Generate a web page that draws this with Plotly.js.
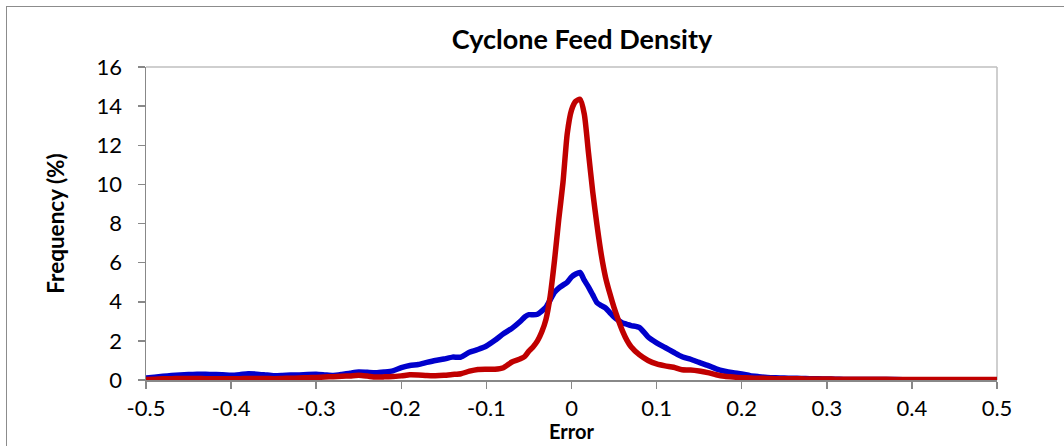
<!DOCTYPE html>
<html>
<head>
<meta charset="utf-8">
<script src="https://cdn.plot.ly/plotly-3.0.1.min.js"></script>
<style>
  html, body { margin: 0; padding: 0; background: #fff; overflow: hidden; }
  #frame { position: absolute; left: 6px; top: 6px; width: 1200px; height: 600px; border: 1px solid #8c8c8c; }
  #chart { position: absolute; left: 0; top: 0; width: 1064px; height: 446px; }
</style>
</head>
<body>
<div id="frame"></div>
<div id="chart"></div>
<script>
const errorX = [
  -0.50, -0.49, -0.48, -0.47, -0.46, -0.45, -0.44, -0.43, -0.42, -0.41,
  -0.40, -0.39, -0.38, -0.37, -0.36, -0.35, -0.34, -0.33, -0.32, -0.31,
  -0.30, -0.29, -0.28, -0.27, -0.26, -0.25, -0.24, -0.23, -0.22, -0.21,
  -0.20, -0.19, -0.18, -0.17, -0.16, -0.15, -0.14, -0.13, -0.12, -0.11,
  -0.10, -0.09, -0.08, -0.07, -0.06, -0.055, -0.05, -0.045, -0.04, -0.035,
  -0.03, -0.025, -0.02, -0.015, -0.01, -0.005, 0.0, 0.005, 0.01, 0.015,
  0.02, 0.025, 0.03, 0.035, 0.04, 0.045, 0.05, 0.055, 0.06, 0.065,
  0.07, 0.08, 0.09, 0.10, 0.11, 0.12, 0.13, 0.14, 0.15, 0.16,
  0.17, 0.18, 0.19, 0.20, 0.21, 0.22, 0.23, 0.24, 0.25, 0.26,
  0.27, 0.28, 0.29, 0.30, 0.31, 0.32, 0.33, 0.34, 0.36, 0.38,
  0.40, 0.42, 0.44, 0.46, 0.48, 0.50
];
const blueFreq = [
  0.10, 0.14, 0.19, 0.23, 0.26, 0.28, 0.29, 0.29, 0.28, 0.27,
  0.24, 0.27, 0.32, 0.30, 0.26, 0.22, 0.23, 0.25, 0.26, 0.28,
  0.29, 0.26, 0.23, 0.28, 0.35, 0.41, 0.39, 0.37, 0.41, 0.47,
  0.63, 0.74, 0.79, 0.90, 1.00, 1.07, 1.17, 1.17, 1.42, 1.56,
  1.74, 2.03, 2.36, 2.64, 3.00, 3.22, 3.34, 3.33, 3.36, 3.52,
  3.72, 4.10, 4.48, 4.70, 4.85, 5.00, 5.27, 5.42, 5.50, 5.10,
  4.75, 4.35, 3.95, 3.80, 3.68, 3.45, 3.22, 3.05, 2.92, 2.85,
  2.78, 2.68, 2.20, 1.90, 1.66, 1.42, 1.19, 1.06, 0.90, 0.75,
  0.57, 0.45, 0.37, 0.31, 0.22, 0.17, 0.13, 0.11, 0.10, 0.09,
  0.08, 0.07, 0.06, 0.05, 0.04, 0.03, 0.03, 0.02, 0.02, 0.02,
  0.01, 0.01, 0.01, 0.01, 0.01, 0.01
];
const redFreq = [
  0.02, 0.04, 0.06, 0.07, 0.08, 0.08, 0.08, 0.07, 0.07, 0.06,
  0.06, 0.07, 0.08, 0.08, 0.08, 0.07, 0.08, 0.09, 0.10, 0.12,
  0.13, 0.15, 0.17, 0.19, 0.21, 0.24, 0.20, 0.15, 0.16, 0.18,
  0.21, 0.27, 0.26, 0.23, 0.22, 0.24, 0.28, 0.32, 0.45, 0.54,
  0.55, 0.55, 0.63, 0.92, 1.08, 1.20, 1.48, 1.70, 2.00, 2.45,
  3.10, 4.30, 6.10, 8.20, 10.10, 12.60, 13.80, 14.25, 14.35, 13.60,
  11.60, 9.60, 7.90, 6.40, 5.25, 4.43, 3.70, 3.07, 2.50, 2.04,
  1.70, 1.28, 1.00, 0.82, 0.72, 0.65, 0.52, 0.51, 0.46, 0.38,
  0.27, 0.19, 0.15, 0.12, 0.10, 0.09, 0.08, 0.07, 0.07, 0.06,
  0.06, 0.05, 0.05, 0.05, 0.04, 0.04, 0.04, 0.04, 0.04, 0.03,
  0.03, 0.03, 0.03, 0.03, 0.03, 0.03
];
const xTicks = [-0.5, -0.4, -0.3, -0.2, -0.1, 0, 0.1, 0.2, 0.3, 0.4, 0.5];
const xTickLabels = ['-0.5', '-0.4', '-0.3', '-0.2', '-0.1', '0', '0.1', '0.2', '0.3', '0.4', '0.5'];
const yTicks = [0, 2, 4, 6, 8, 10, 12, 14, 16];

const FONT = 'Lato, "Open Sans", "Liberation Sans", sans-serif';

const traces = [
  {
    x: errorX, y: blueFreq, type: 'scatter', mode: 'lines',
    line: { color: '#0000CC', width: 5.5, shape: 'spline', smoothing: 0.6 },
    hoverinfo: 'skip'
  },
  {
    x: errorX, y: redFreq, type: 'scatter', mode: 'lines',
    line: { color: '#C00000', width: 5.5, shape: 'spline', smoothing: 0.6 },
    hoverinfo: 'skip'
  }
];

const layout = {
  width: 1064, height: 446,
  margin: { l: 146, r: 67, t: 67, b: 66 },
  paper_bgcolor: 'rgba(0,0,0,0)',
  plot_bgcolor: '#fff',
  showlegend: false,
  font: { family: FONT, color: '#000', size: 22 },
  title: {
    text: '<b>Cyclone Feed Density</b>',
    font: { family: FONT, size: 27, color: '#000' },
    x: 582 / 1064, xref: 'container', xanchor: 'center',
    y: 1 - 40 / 446, yref: 'container', yanchor: 'middle'
  },
  xaxis: {
    range: [-0.5, 0.5],
    tickmode: 'array', tickvals: xTicks, ticktext: xTickLabels,
    ticks: 'outside', ticklen: 7, tickwidth: 1.5, tickcolor: '#888',
    ticklabelstandoff: 1,
    showline: true, linecolor: '#888', linewidth: 1.5,
    showgrid: false, zeroline: false,
    tickfont: { family: FONT, size: 22, color: '#000' }
  },
  yaxis: {
    range: [0, 16],
    tickmode: 'array', tickvals: yTicks,
    ticks: 'outside', ticklen: 7, tickwidth: 1.5, tickcolor: '#888',
    ticklabelstandoff: 11,
    showline: true, linecolor: '#888', linewidth: 1.5,
    showgrid: false, zeroline: false,
    tickfont: { family: FONT, size: 22, color: '#000' },
    title: { text: '<b>Frequency (%)</b>', font: { family: FONT, size: 22.5, color: '#000' }, standoff: 25 }
  },
  annotations: [
    { text: '<b>Error</b>', xref: 'paper', yref: 'paper', x: 0.5, y: (380 - 431) / 313,
      xanchor: 'center', yanchor: 'middle', showarrow: false,
      font: { family: FONT, size: 20, color: '#000' } }
  ],
  shapes: [
    { type: 'line', xref: 'paper', yref: 'paper', x0: 0, x1: 1, y0: 1, y1: 1,
      line: { color: '#bfbfbf', width: 1.5 }, layer: 'below' },
    { type: 'line', xref: 'paper', yref: 'paper', x0: 1, x1: 1, y0: 0, y1: 1,
      line: { color: '#bfbfbf', width: 1.5 }, layer: 'below' }
  ]
};

Plotly.newPlot('chart', traces, layout, { displayModeBar: false, staticPlot: true });
</script>
</body>
</html>
